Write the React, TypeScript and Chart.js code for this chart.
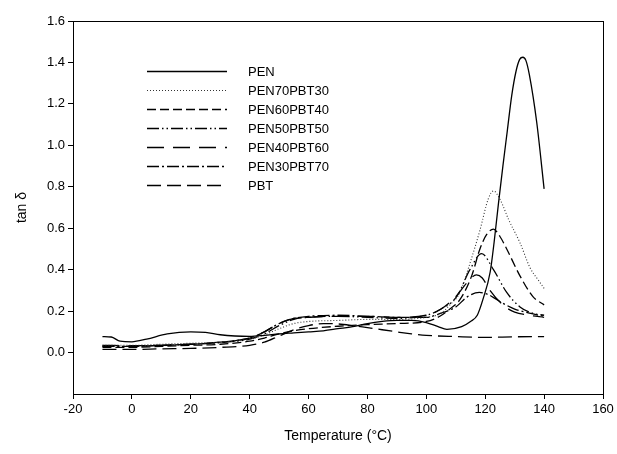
import React, { useEffect, useRef } from "react";
import { Chart, registerables } from "chart.js";

Chart.register(...registerables);

const seriesNames = ["PEN", "PEN70PBT30", "PEN60PBT40", "PEN50PBT50", "PEN40PBT60", "PEN30PBT70", "PBT"];

const penT = [-10, -7, -4, 0, 5, 12, 20, 25, 30, 35, 40, 45, 50, 55, 60, 65, 70, 75, 80, 85, 90, 95, 100, 104, 107, 112, 115, 117.3, 119.3, 121.7, 123, 124.5, 126, 127.5, 129, 130.5, 131.7, 132.8, 133.8, 135, 137.5, 140];
const penV = [0.077, 0.075, 0.055, 0.052, 0.065, 0.09, 0.1, 0.097, 0.086, 0.08, 0.078, 0.083, 0.09, 0.095, 0.1, 0.105, 0.115, 0.125, 0.14, 0.15, 0.155, 0.155, 0.145, 0.125, 0.112, 0.125, 0.15, 0.18, 0.26, 0.39, 0.53, 0.72, 0.9, 1.07, 1.24, 1.36, 1.415, 1.425, 1.41, 1.34, 1.11, 0.79];

const p70T = [-10, 0, 10, 20, 30, 40, 45, 50, 55, 60, 70, 80, 90, 100, 105, 108, 111.4, 114.8, 118.2, 121, 122.8, 125, 128, 131.8, 135.2, 138, 140];
const p70V = [0.035, 0.035, 0.04, 0.045, 0.05, 0.065, 0.085, 0.115, 0.14, 0.15, 0.155, 0.16, 0.16, 0.17, 0.19, 0.23, 0.29, 0.43, 0.59, 0.74, 0.78, 0.74, 0.64, 0.53, 0.41, 0.35, 0.31];

const p60T = [-10, 0, 10, 20, 30, 40, 45, 50, 55, 60, 70, 80, 90, 100, 104.6, 108, 111.4, 115.4, 118.2, 120.5, 122.8, 125, 127.3, 131.8, 136.2, 140];
const p60V = [0.025, 0.025, 0.03, 0.035, 0.04, 0.055, 0.07, 0.09, 0.105, 0.115, 0.127, 0.135, 0.14, 0.15, 0.175, 0.21, 0.255, 0.37, 0.5, 0.57, 0.596, 0.56, 0.5, 0.37, 0.27, 0.23];

const p50T = [-10, 0, 10, 20, 30, 40, 45, 50, 55, 60, 70, 80, 90, 100, 105, 110.3, 114.8, 118.8, 122.8, 127.3, 131.8, 136, 140];
const p50V = [0.03, 0.03, 0.035, 0.04, 0.048, 0.065, 0.09, 0.13, 0.16, 0.17, 0.175, 0.17, 0.165, 0.18, 0.21, 0.27, 0.4, 0.477, 0.4, 0.29, 0.22, 0.19, 0.18];

const p40T = [-10, 0, 10, 20, 30, 40, 45, 50, 55, 60, 70, 80, 90, 100, 105, 110, 114, 117, 119, 121.6, 126, 130, 135, 140];
const p40V = [0.035, 0.033, 0.035, 0.04, 0.05, 0.07, 0.1, 0.14, 0.165, 0.17, 0.175, 0.175, 0.17, 0.18, 0.21, 0.27, 0.34, 0.375, 0.36, 0.3, 0.23, 0.195, 0.18, 0.17];

const p30T = [-10, 0, 10, 20, 30, 40, 45, 50, 55, 60, 70, 80, 90, 100, 105, 110, 114, 118, 121, 124, 127, 130, 135, 140];
const p30V = [0.03, 0.03, 0.035, 0.04, 0.05, 0.07, 0.1, 0.14, 0.165, 0.175, 0.18, 0.175, 0.17, 0.17, 0.19, 0.22, 0.27, 0.29, 0.28, 0.255, 0.23, 0.21, 0.19, 0.175];

const pbtT = [-10, 0, 10, 20, 30, 40, 45, 50, 55, 60, 65, 70, 75, 80, 85, 90, 95, 100, 110, 120, 130, 140];
const pbtV = [0.015, 0.015, 0.018, 0.02, 0.025, 0.035, 0.05, 0.08, 0.11, 0.13, 0.14, 0.138, 0.13, 0.12, 0.11, 0.1, 0.09, 0.083, 0.077, 0.073, 0.076, 0.077];

const xTicks = [-20, 0, 20, 40, 60, 80, 100, 120, 140, 160];
const yTicks = [0, 0.2, 0.4, 0.6, 0.8, 1.0, 1.2, 1.4, 1.6];

const seriesT = [penT, p70T, p60T, p50T, p40T, p30T, pbtT];
const seriesV = [penV, p70V, p60V, p50V, p40V, p30V, pbtV];

const dashes: number[][] = [[], [1, 2], [9, 4], [12, 3, 1.5, 3, 1.5, 3], [17, 9], [12, 3, 2, 3], [14, 6]];
const colors = ["#000", "#333", "#000", "#000", "#000", "#000", "#000"];
const widths = [1.3, 1.1, 1.3, 1.3, 1.3, 1.3, 1.3];

const FONT = "'Liberation Sans', Arial, sans-serif";

const framePlugin = {
  id: "frame",
  afterDraw(chart: any) {
    const { ctx, chartArea } = chart;
    ctx.save();
    ctx.strokeStyle = "#000";
    ctx.lineWidth = 1;
    ctx.setLineDash([]);
    ctx.strokeRect(Math.round(chartArea.left) + 0.5, Math.round(chartArea.top) + 0.5, Math.round(chartArea.right - chartArea.left), Math.round(chartArea.bottom - chartArea.top));
    // legend
    const ds = chart.data.datasets;
    ctx.font = "13px " + FONT;
    ctx.textBaseline = "middle";
    ctx.fillStyle = "#000";
    for (let i = 0; i < ds.length; i++) {
      const y = 71 + i * 19;
      ctx.beginPath();
      ctx.setLineDash(ds[i].borderDash || []);
      ctx.strokeStyle = ds[i].borderColor;
      ctx.lineWidth = ds[i].borderWidth;
      ctx.moveTo(147, y + 0.5);
      ctx.lineTo(227, y + 0.5);
      ctx.stroke();
      ctx.setLineDash([]);
      ctx.fillText(ds[i].label, 248, y + 1);
    }
    ctx.restore();
  },
};

export default function App() {
  const ref = useRef<HTMLCanvasElement | null>(null);
  useEffect(() => {
    if (!ref.current) return;
    const datasets = seriesNames.map((name, i) => ({
      label: name,
      data: seriesT[i].map((t, j) => ({ x: t, y: seriesV[i][j] })),
      borderColor: colors[i],
      borderWidth: widths[i],
      borderDash: dashes[i],
      pointRadius: 0,
      fill: false,
      cubicInterpolationMode: "monotone" as const,
    }));
    const chart = new Chart(ref.current, {
      type: "line",
      data: { datasets },
      options: {
        animation: false,
        responsive: false,
        layout: { padding: { top: 21, right: 14, left: 0, bottom: 0 } },
        plugins: { legend: { display: false }, tooltip: { enabled: false } },
        scales: {
          x: {
            type: "linear",
            min: -20,
            max: 160,
            afterFit: (s: any) => { s.height = 60; },
            afterBuildTicks: (s: any) => { s.ticks = xTicks.map((v) => ({ value: v })); },
            border: { display: false },
            grid: { drawOnChartArea: false, drawTicks: true, tickLength: 5, color: "#000", tickColor: "#000" },
            ticks: { color: "#000", font: { family: FONT, size: 13 }, padding: 3, maxRotation: 0, callback: (v: any) => String(v) },
            title: { display: true, text: "Temperature (°C)", color: "#000", font: { family: FONT, size: 14 }, padding: { top: 4, bottom: 9 } },
          },
          y: {
            type: "linear",
            min: -0.2,
            max: 1.6,
            afterFit: (s: any) => { s.width = 73; },
            afterBuildTicks: (s: any) => { s.ticks = yTicks.map((v) => ({ value: v })); },
            border: { display: false },
            grid: { drawOnChartArea: false, drawTicks: true, tickLength: 5, color: "#000", tickColor: "#000" },
            ticks: { color: "#000", font: { family: FONT, size: 13 }, padding: 3, callback: (v: any) => Number(v).toFixed(1) },
            title: { display: true, text: "tan δ", color: "#000", font: { family: FONT, size: 14 }, padding: { top: 14, bottom: 0 } },
          },
        },
      },
      plugins: [framePlugin],
    });
    return () => chart.destroy();
  }, []);
  return (
    <div style={{ position: "absolute", left: 0, top: 0, width: 617, height: 454, background: "#fff" }}>
      <canvas ref={ref} width={617} height={454} style={{ display: "block" }} />
    </div>
  );
}
